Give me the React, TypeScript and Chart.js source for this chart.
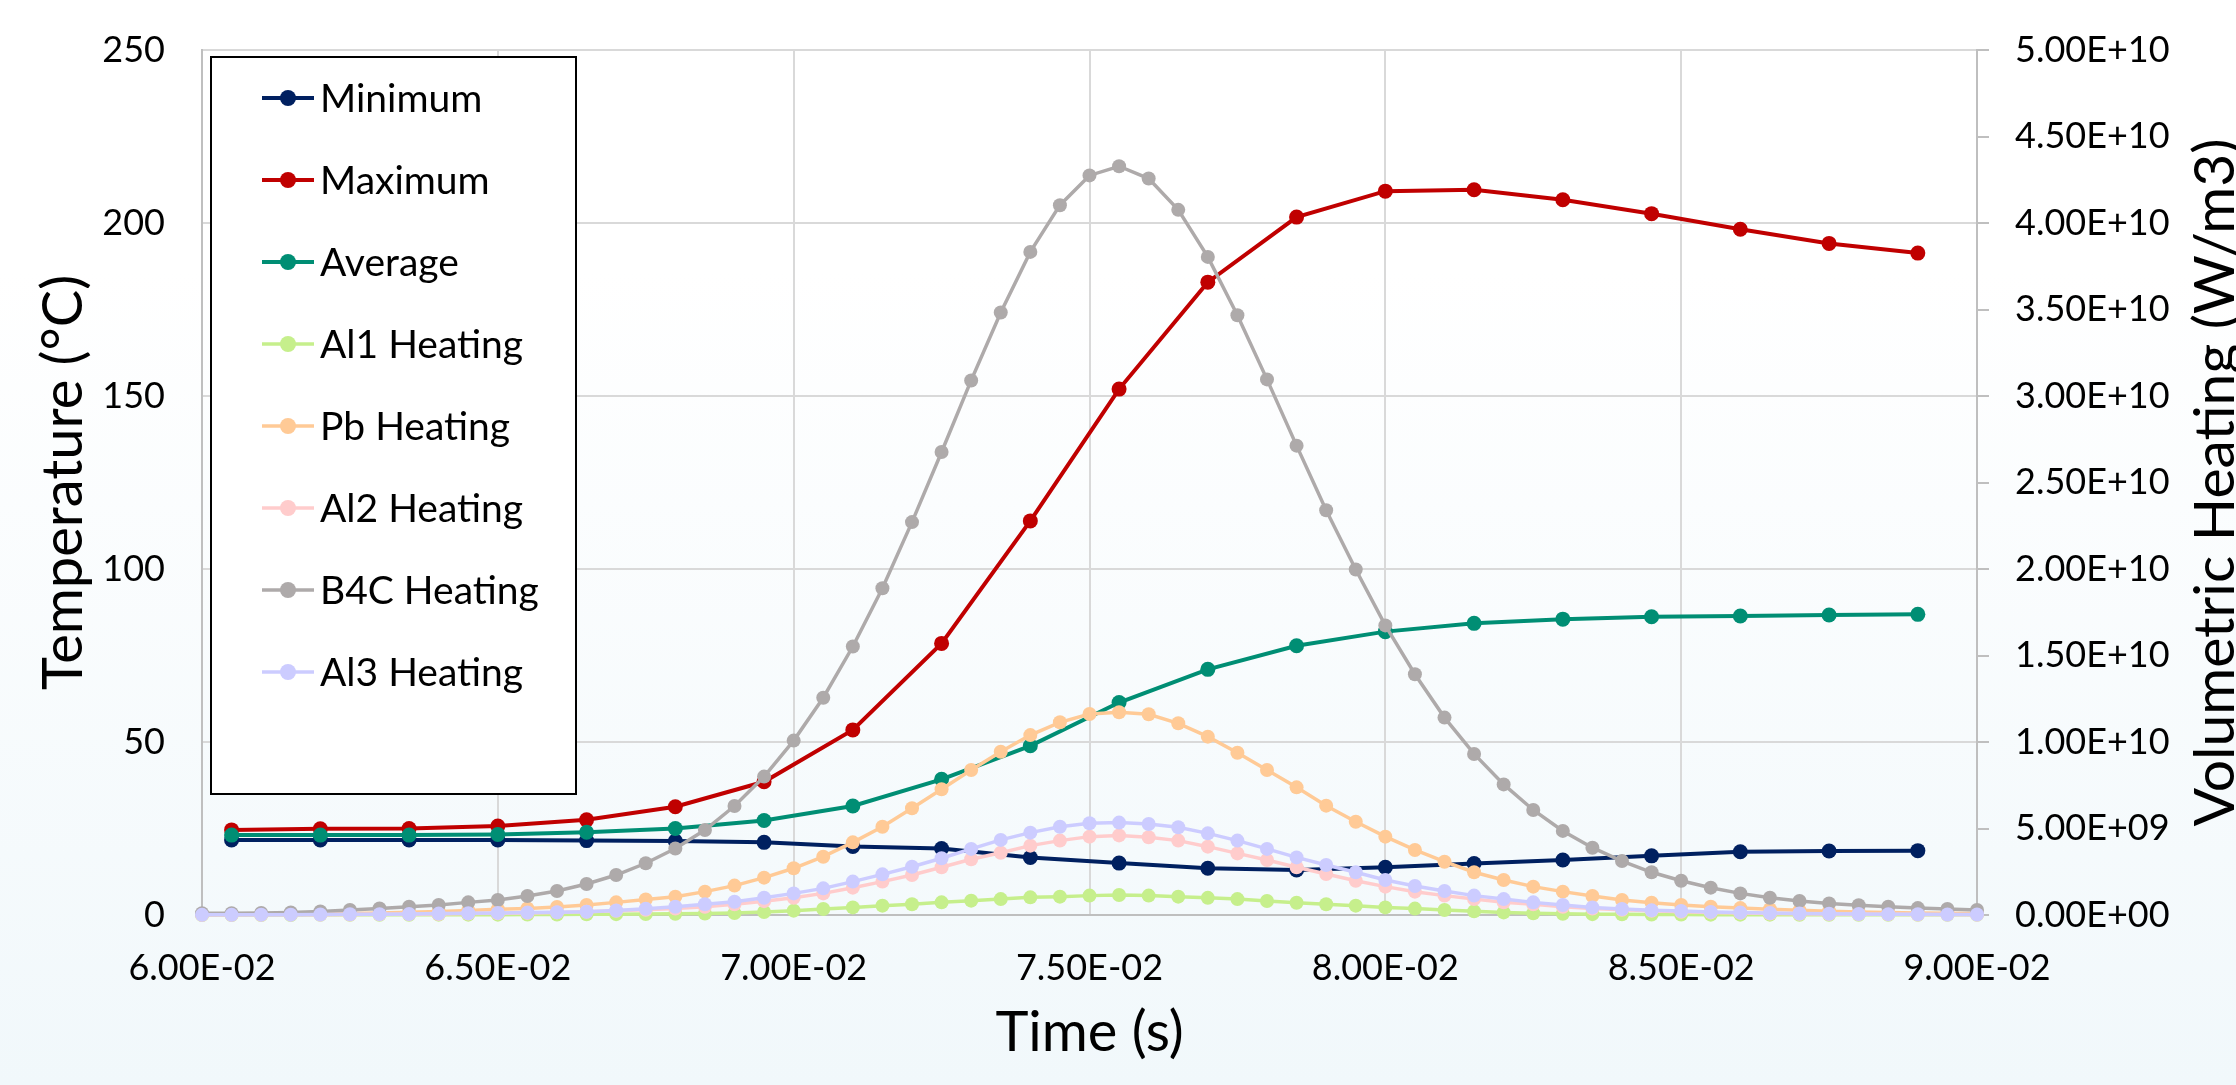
import React, { useEffect, useRef } from "react";
import { Chart, registerables } from "chart.js";

Chart.register(...registerables);

const W = 2236;
const H = 1085;
const FONT = "Lato, 'Open Sans', sans-serif";

// ---- data ----
const TIME_TEMP = [
  0.0605, 0.062, 0.0635, 0.065, 0.0665, 0.068, 0.0695, 0.071, 0.0725, 0.074,
  0.0755, 0.077, 0.0785, 0.08, 0.0815, 0.083, 0.0845, 0.086, 0.0875, 0.089,
];
const MINIMUM = [
  21.7, 21.7, 21.7, 21.7, 21.5, 21.4, 21.0, 19.8, 19.2, 16.6,
  15.0, 13.5, 13.0, 13.8, 14.9, 15.9, 17.1, 18.3, 18.5, 18.6,
];
const MAXIMUM = [
  24.6, 24.9, 25.0, 25.7, 27.5, 31.3, 38.5, 53.5, 78.5, 113.9,
  152.0, 182.9, 201.7, 209.2, 209.6, 206.7, 202.7, 198.2, 194.1, 191.3,
];
const AVERAGE = [
  23.1, 23.1, 23.1, 23.3, 23.9, 25.0, 27.3, 31.5, 39.2, 48.9,
  61.4, 71.0, 77.8, 81.9, 84.3, 85.5, 86.2, 86.4, 86.7, 86.9,
];

const TIME_HEAT = [
  0.06, 0.0605, 0.061, 0.0615, 0.062, 0.0625, 0.063, 0.0635, 0.064, 0.0645,
  0.065, 0.0655, 0.066, 0.0665, 0.067, 0.0675, 0.068, 0.0685, 0.069, 0.0695,
  0.07, 0.0705, 0.071, 0.0715, 0.072, 0.0725, 0.073, 0.0735, 0.074, 0.0745,
  0.075, 0.0755, 0.076, 0.0765, 0.077, 0.0775, 0.078, 0.0785, 0.079, 0.0795,
  0.08, 0.0805, 0.081, 0.0815, 0.082, 0.0825, 0.083, 0.0835, 0.084, 0.0845,
  0.085, 0.0855, 0.086, 0.0865, 0.087, 0.0875, 0.088, 0.0885, 0.089, 0.0895,
  0.09,
];
// heating values in units of 1e10 W/m3
const HEAT_UNIT = 1e10;
const AL1_HEATING = [
  0.0, 0.0, 0.0, 0.0, 0.001, 0.001, 0.001, 0.001, 0.002, 0.002, 0.002, 0.003,
  0.003, 0.004, 0.005, 0.006, 0.007, 0.008, 0.011, 0.017, 0.025, 0.035, 0.044, 0.054,
  0.062, 0.073, 0.083, 0.092, 0.102, 0.106, 0.112, 0.116, 0.112, 0.106, 0.099, 0.092,
  0.081, 0.071, 0.062, 0.054, 0.044, 0.037, 0.029, 0.021, 0.015, 0.01, 0.007, 0.005,
  0.004, 0.003, 0.003, 0.002, 0.002, 0.002, 0.001, 0.001, 0.001, 0.001, 0.001, 0.001, 0.001,
];
const PB_HEATING = [
  0.002, 0.003, 0.004, 0.005, 0.007, 0.009, 0.012, 0.016, 0.02, 0.026, 0.033, 0.038,
  0.046, 0.058, 0.073, 0.09, 0.106, 0.135, 0.17, 0.216, 0.27, 0.337, 0.42, 0.51,
  0.617, 0.727, 0.838, 0.944, 1.04, 1.114, 1.162, 1.172, 1.16, 1.108, 1.031, 0.938,
  0.838, 0.738, 0.632, 0.539, 0.453, 0.376, 0.308, 0.247, 0.202, 0.164, 0.135, 0.11,
  0.087, 0.071, 0.058, 0.048, 0.04, 0.033, 0.027, 0.022, 0.018, 0.015, 0.012, 0.01, 0.008,
];
const AL2_HEATING = [
  0.001, 0.001, 0.001, 0.002, 0.002, 0.003, 0.004, 0.005, 0.006, 0.008, 0.01, 0.012,
  0.015, 0.019, 0.024, 0.03, 0.038, 0.048, 0.062, 0.08, 0.1, 0.125, 0.158, 0.193,
  0.231, 0.276, 0.322, 0.36, 0.401, 0.43, 0.453, 0.46, 0.449, 0.43, 0.395, 0.356,
  0.318, 0.276, 0.237, 0.198, 0.164, 0.135, 0.112, 0.092, 0.073, 0.062, 0.048, 0.038,
  0.03, 0.024, 0.019, 0.015, 0.012, 0.009, 0.007, 0.006, 0.005, 0.004, 0.003, 0.003, 0.002,
];
const B4C_HEATING = [
  0.01, 0.01, 0.012, 0.015, 0.02, 0.029, 0.038, 0.048, 0.058, 0.073, 0.087, 0.11,
  0.139, 0.179, 0.231, 0.299, 0.384, 0.491, 0.63, 0.8, 1.008, 1.256, 1.552, 1.889,
  2.271, 2.676, 3.09, 3.483, 3.833, 4.103, 4.275, 4.328, 4.257, 4.076, 3.804, 3.467,
  3.096, 2.713, 2.34, 1.997, 1.674, 1.392, 1.141, 0.931, 0.755, 0.607, 0.486, 0.389,
  0.312, 0.247, 0.198, 0.158, 0.125, 0.1, 0.081, 0.067, 0.056, 0.048, 0.04, 0.035, 0.029,
];
const AL3_HEATING = [
  0.001, 0.001, 0.002, 0.002, 0.003, 0.004, 0.005, 0.006, 0.008, 0.01, 0.012, 0.014,
  0.016, 0.019, 0.026, 0.036, 0.048, 0.062, 0.077, 0.1, 0.125, 0.154, 0.193, 0.235,
  0.279, 0.328, 0.382, 0.434, 0.476, 0.51, 0.53, 0.534, 0.526, 0.507, 0.472, 0.43,
  0.382, 0.333, 0.289, 0.247, 0.202, 0.168, 0.139, 0.112, 0.092, 0.073, 0.058, 0.044,
  0.035, 0.027, 0.023, 0.018, 0.014, 0.011, 0.009, 0.007, 0.006, 0.005, 0.004, 0.003, 0.003,
];

const SERIES_LABELS = [
  "Minimum", "Maximum", "Average", "Al1 Heating",
  "Pb Heating", "Al2 Heating", "B4C Heating", "Al3 Heating",
];
const SERIES_COLORS = [
  "#002060", "#C00000", "#008E74", "#C6EF8C",
  "#FFCA96", "#FFCCCC", "#AEAAAA", "#CCCCFF",
];

const X_MIN = 0.06, X_MAX = 0.09, X_STEP = 0.005;
const Y_MIN = 0, Y_MAX = 250, Y_STEP = 50;
const Y2_MIN = 0, Y2_MAX = 5e10, Y2_STEP = 5e9;

const X_TITLE = "Time (s)";
const Y_TITLE = "Temperature (°C)";
const Y2_TITLE = "Volumetric Heating (W/m3)";

function sci(v: number): string {
  const [m, e] = Number(v).toExponential(2).split("e");
  const n = parseInt(e, 10);
  return m + "E" + (n < 0 ? "-" : "+") + String(Math.abs(n)).padStart(2, "0");
}

function pts(xs: number[], ys: number[], k = 1) {
  return xs.map((x, i) => ({ x, y: ys[i] * k }));
}

const boxLegend = {
  id: "boxLegend",
  afterDraw(chart: any) {
    const { ctx, chartArea } = chart;
    const left = chartArea.left + 9;
    const top = chartArea.top + 7;
    const w = 365, h = 737;
    ctx.save();
    ctx.fillStyle = "#ffffff";
    ctx.fillRect(left, top, w, h);
    ctx.strokeStyle = "#000000";
    ctx.lineWidth = 2;
    ctx.strokeRect(left, top, w, h);
    chart.data.datasets.forEach((ds: any, i: number) => {
      const cy = top + 41 + i * 82;
      ctx.strokeStyle = ds.borderColor;
      ctx.lineWidth = ds.borderWidth;
      ctx.beginPath();
      ctx.moveTo(left + 51, cy);
      ctx.lineTo(left + 103, cy);
      ctx.stroke();
      ctx.fillStyle = ds.borderColor;
      ctx.beginPath();
      ctx.arc(left + 77, cy, 8, 0, Math.PI * 2);
      ctx.fill();
      ctx.fillStyle = "#000000";
      ctx.font = `39px ${FONT}`;
      ctx.textAlign = "left";
      ctx.textBaseline = "alphabetic";
      ctx.fillText(ds.label, left + 109, cy + 14);
    });
    ctx.restore();
  },
};

const rightTitle = {
  id: "rightTitle",
  afterDraw(chart: any) {
    const { ctx, chartArea } = chart;
    ctx.save();
    ctx.translate(chart.width - 2, (chartArea.top + chartArea.bottom) / 2);
    ctx.rotate(-Math.PI / 2);
    ctx.fillStyle = "#000000";
    ctx.font = `57px ${FONT}`;
    ctx.textAlign = "center";
    ctx.textBaseline = "alphabetic";
    ctx.fillText(Y2_TITLE, 0, 0);
    ctx.restore();
  },
};

export default function App() {
  const ref = useRef<HTMLCanvasElement>(null);

  useEffect(() => {
    const canvas = ref.current;
    if (!canvas) return;

    const heat = [AL1_HEATING, PB_HEATING, AL2_HEATING, B4C_HEATING, AL3_HEATING];
    const temps = [MINIMUM, MAXIMUM, AVERAGE];

    const datasets: any[] = [];
    temps.forEach((arr, i) => {
      datasets.push({
        label: SERIES_LABELS[i],
        data: pts(TIME_TEMP, arr),
        yAxisID: "y",
        borderColor: SERIES_COLORS[i],
        backgroundColor: SERIES_COLORS[i],
        borderWidth: 4,
        pointRadius: 7.5,
        pointBorderWidth: 0,
        pointBackgroundColor: SERIES_COLORS[i],
        tension: 0,
        clip: false,
        order: 7 - i,
      });
    });
    heat.forEach((arr, j) => {
      const i = j + 3;
      datasets.push({
        label: SERIES_LABELS[i],
        data: pts(TIME_HEAT, arr, HEAT_UNIT),
        yAxisID: "y2",
        borderColor: SERIES_COLORS[i],
        backgroundColor: SERIES_COLORS[i],
        borderWidth: 3.5,
        pointRadius: 7,
        pointBorderWidth: 0,
        pointBackgroundColor: SERIES_COLORS[i],
        tension: 0,
        clip: false,
        order: 7 - i,
      });
    });

    const tickFont = { family: FONT, size: 36 };
    const titleFont = { family: FONT, size: 56 };

    const chart = new Chart(canvas, {
      type: "line",
      data: { datasets },
      plugins: [boxLegend, rightTitle],
      options: {
        responsive: false,
        animation: false,
        events: [],
        layout: { padding: { top: 50, left: 0, right: 0, bottom: 0 } },
        plugins: {
          legend: { display: false },
          tooltip: { enabled: false },
          title: { display: false },
        },
        scales: {
          x: {
            type: "linear",
            min: X_MIN,
            max: X_MAX,
            ticks: {
              stepSize: X_STEP,
              autoSkip: false,
              maxRotation: 0,
              minRotation: 0,
              padding: 32,
              color: "#000000",
              font: tickFont,
              callback: (v: any) => sci(Number(v)),
            },
            grid: { color: "#D9D9D9", lineWidth: 2, drawTicks: false },
            border: { display: true, color: "#BFBFBF", width: 2 },
            title: {
              display: true,
              text: X_TITLE,
              color: "#000000",
              font: titleFont,
              padding: { top: 0, bottom: 18 },
            },
            afterFit: (s: any) => { s.height = 170; },
          },
          y: {
            type: "linear",
            position: "left",
            min: Y_MIN,
            max: Y_MAX,
            ticks: {
              stepSize: Y_STEP,
              padding: 37,
              color: "#000000",
              font: tickFont,
            },
            grid: { color: "#D9D9D9", lineWidth: 2, drawTicks: false },
            border: { display: true, color: "#BFBFBF", width: 2 },
            title: {
              display: true,
              text: Y_TITLE,
              color: "#000000",
              font: titleFont,
              padding: { top: 30, bottom: 0 },
            },
            afterFit: (s: any) => {
              s.width = 202;
              s.paddingTop = 20;
              s.paddingBottom = 20;
            },
          },
          y2: {
            type: "linear",
            position: "right",
            min: Y2_MIN,
            max: Y2_MAX,
            ticks: {
              stepSize: Y2_STEP,
              padding: 26,
              color: "#000000",
              font: tickFont,
              callback: (v: any) => sci(Number(v)),
            },
            grid: {
              drawOnChartArea: false,
              drawTicks: true,
              tickLength: 12,
              color: "#BFBFBF",
              lineWidth: 2,
            },
            border: { display: true, color: "#BFBFBF", width: 2 },
            afterFit: (s: any) => {
              s.width = W - 1977;
              s.paddingTop = 20;
              s.paddingBottom = 20;
            },
          },
        },
      } as any,
    });

    return () => chart.destroy();
  }, []);

  return (
    <div
      style={{
        position: "fixed",
        left: 0,
        top: 0,
        width: W,
        height: H,
        overflow: "hidden",
        background: "linear-gradient(180deg, #FFFFFF 0%, #FFFFFF 25%, #F1F8FB 100%)",
      }}
    >
      <canvas ref={ref} width={W} height={H} style={{ display: "block", width: W, height: H }} />
    </div>
  );
}
